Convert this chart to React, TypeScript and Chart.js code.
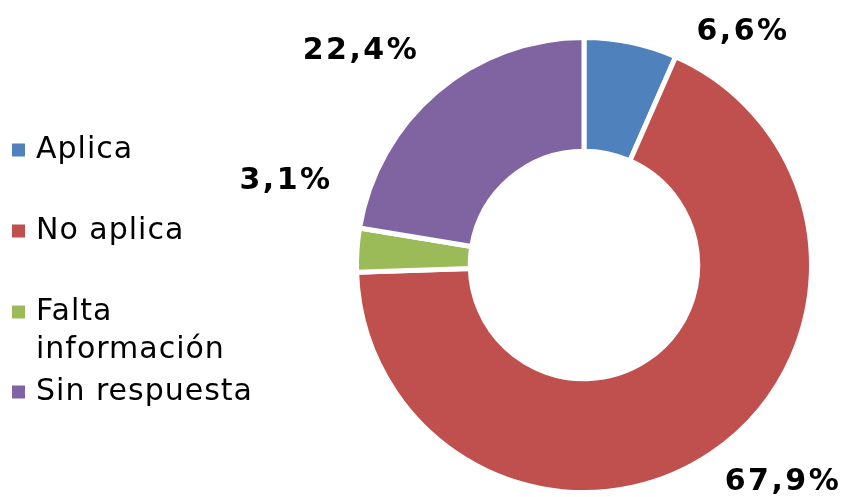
import React, { useEffect, useRef } from "react";
import { Chart, registerables } from "chart.js";

Chart.register(...registerables);

const categories = ["Aplica", "No aplica", "Falta información", "Sin respuesta"];
const legendLines = [["Aplica"], ["No aplica"], ["Falta", "información"], ["Sin respuesta"]];
const values = [6.6, 67.9, 3.1, 22.4];
const valueLabels = ["6,6%", "67,9%", "3,1%", "22,4%"];
const colors = ["#4F81BD", "#C0504D", "#9BBB59", "#8064A2"];

const labelPos = [
  [743, 40],
  [783, 490],
  [286, 189],
  [361, 59],
];
const legendY = [150, 231, 312, 392];

const overlayPlugin = {
  id: "overlay",
  afterDraw(chart: any) {
    const ctx = chart.ctx;
    ctx.save();
    // legend
    ctx.font = '30px "DejaVu Sans", Verdana, sans-serif';
    ctx.letterSpacing = "1px";
    ctx.textBaseline = "middle";
    ctx.textAlign = "left";
    legendLines.forEach((lines, i) => {
      const y = legendY[i];
      ctx.fillStyle = colors[i];
      ctx.fillRect(12, y - 6.5, 13, 13);
      ctx.fillStyle = "#000";
      lines.forEach((t, j) => {
        ctx.fillText(t, 36, y + j * 38);
      });
    });
    // value labels
    ctx.font = 'bold 30px "DejaVu Sans", Verdana, sans-serif';
    ctx.letterSpacing = "2.5px";
    ctx.textAlign = "center";
    ctx.textBaseline = "alphabetic";
    valueLabels.forEach((t, i) => {
      ctx.fillText(t, labelPos[i][0], labelPos[i][1]);
    });
    ctx.restore();
  },
};

export default function App() {
  const ref = useRef<HTMLCanvasElement>(null);
  useEffect(() => {
    document.body.style.margin = "0";
    const chart = new Chart(ref.current!, {
      type: "doughnut",
      data: {
        labels: categories,
        datasets: [
          {
            data: values,
            backgroundColor: colors,
            borderColor: "#ffffff",
            borderWidth: 5,
          },
        ],
      },
      options: {
        animation: false,
        responsive: false,
        cutout: "50%",
        layout: { padding: { left: 354, right: 37, top: 35, bottom: 2 } },
        plugins: {
          legend: { display: false },
          tooltip: { enabled: false },
        },
      },
      plugins: [overlayPlugin],
    });
    return () => chart.destroy();
  }, []);
  return (
    <div style={{ width: 851, height: 497, background: "#fff" }}>
      <canvas ref={ref} width={851} height={497} />
    </div>
  );
}
